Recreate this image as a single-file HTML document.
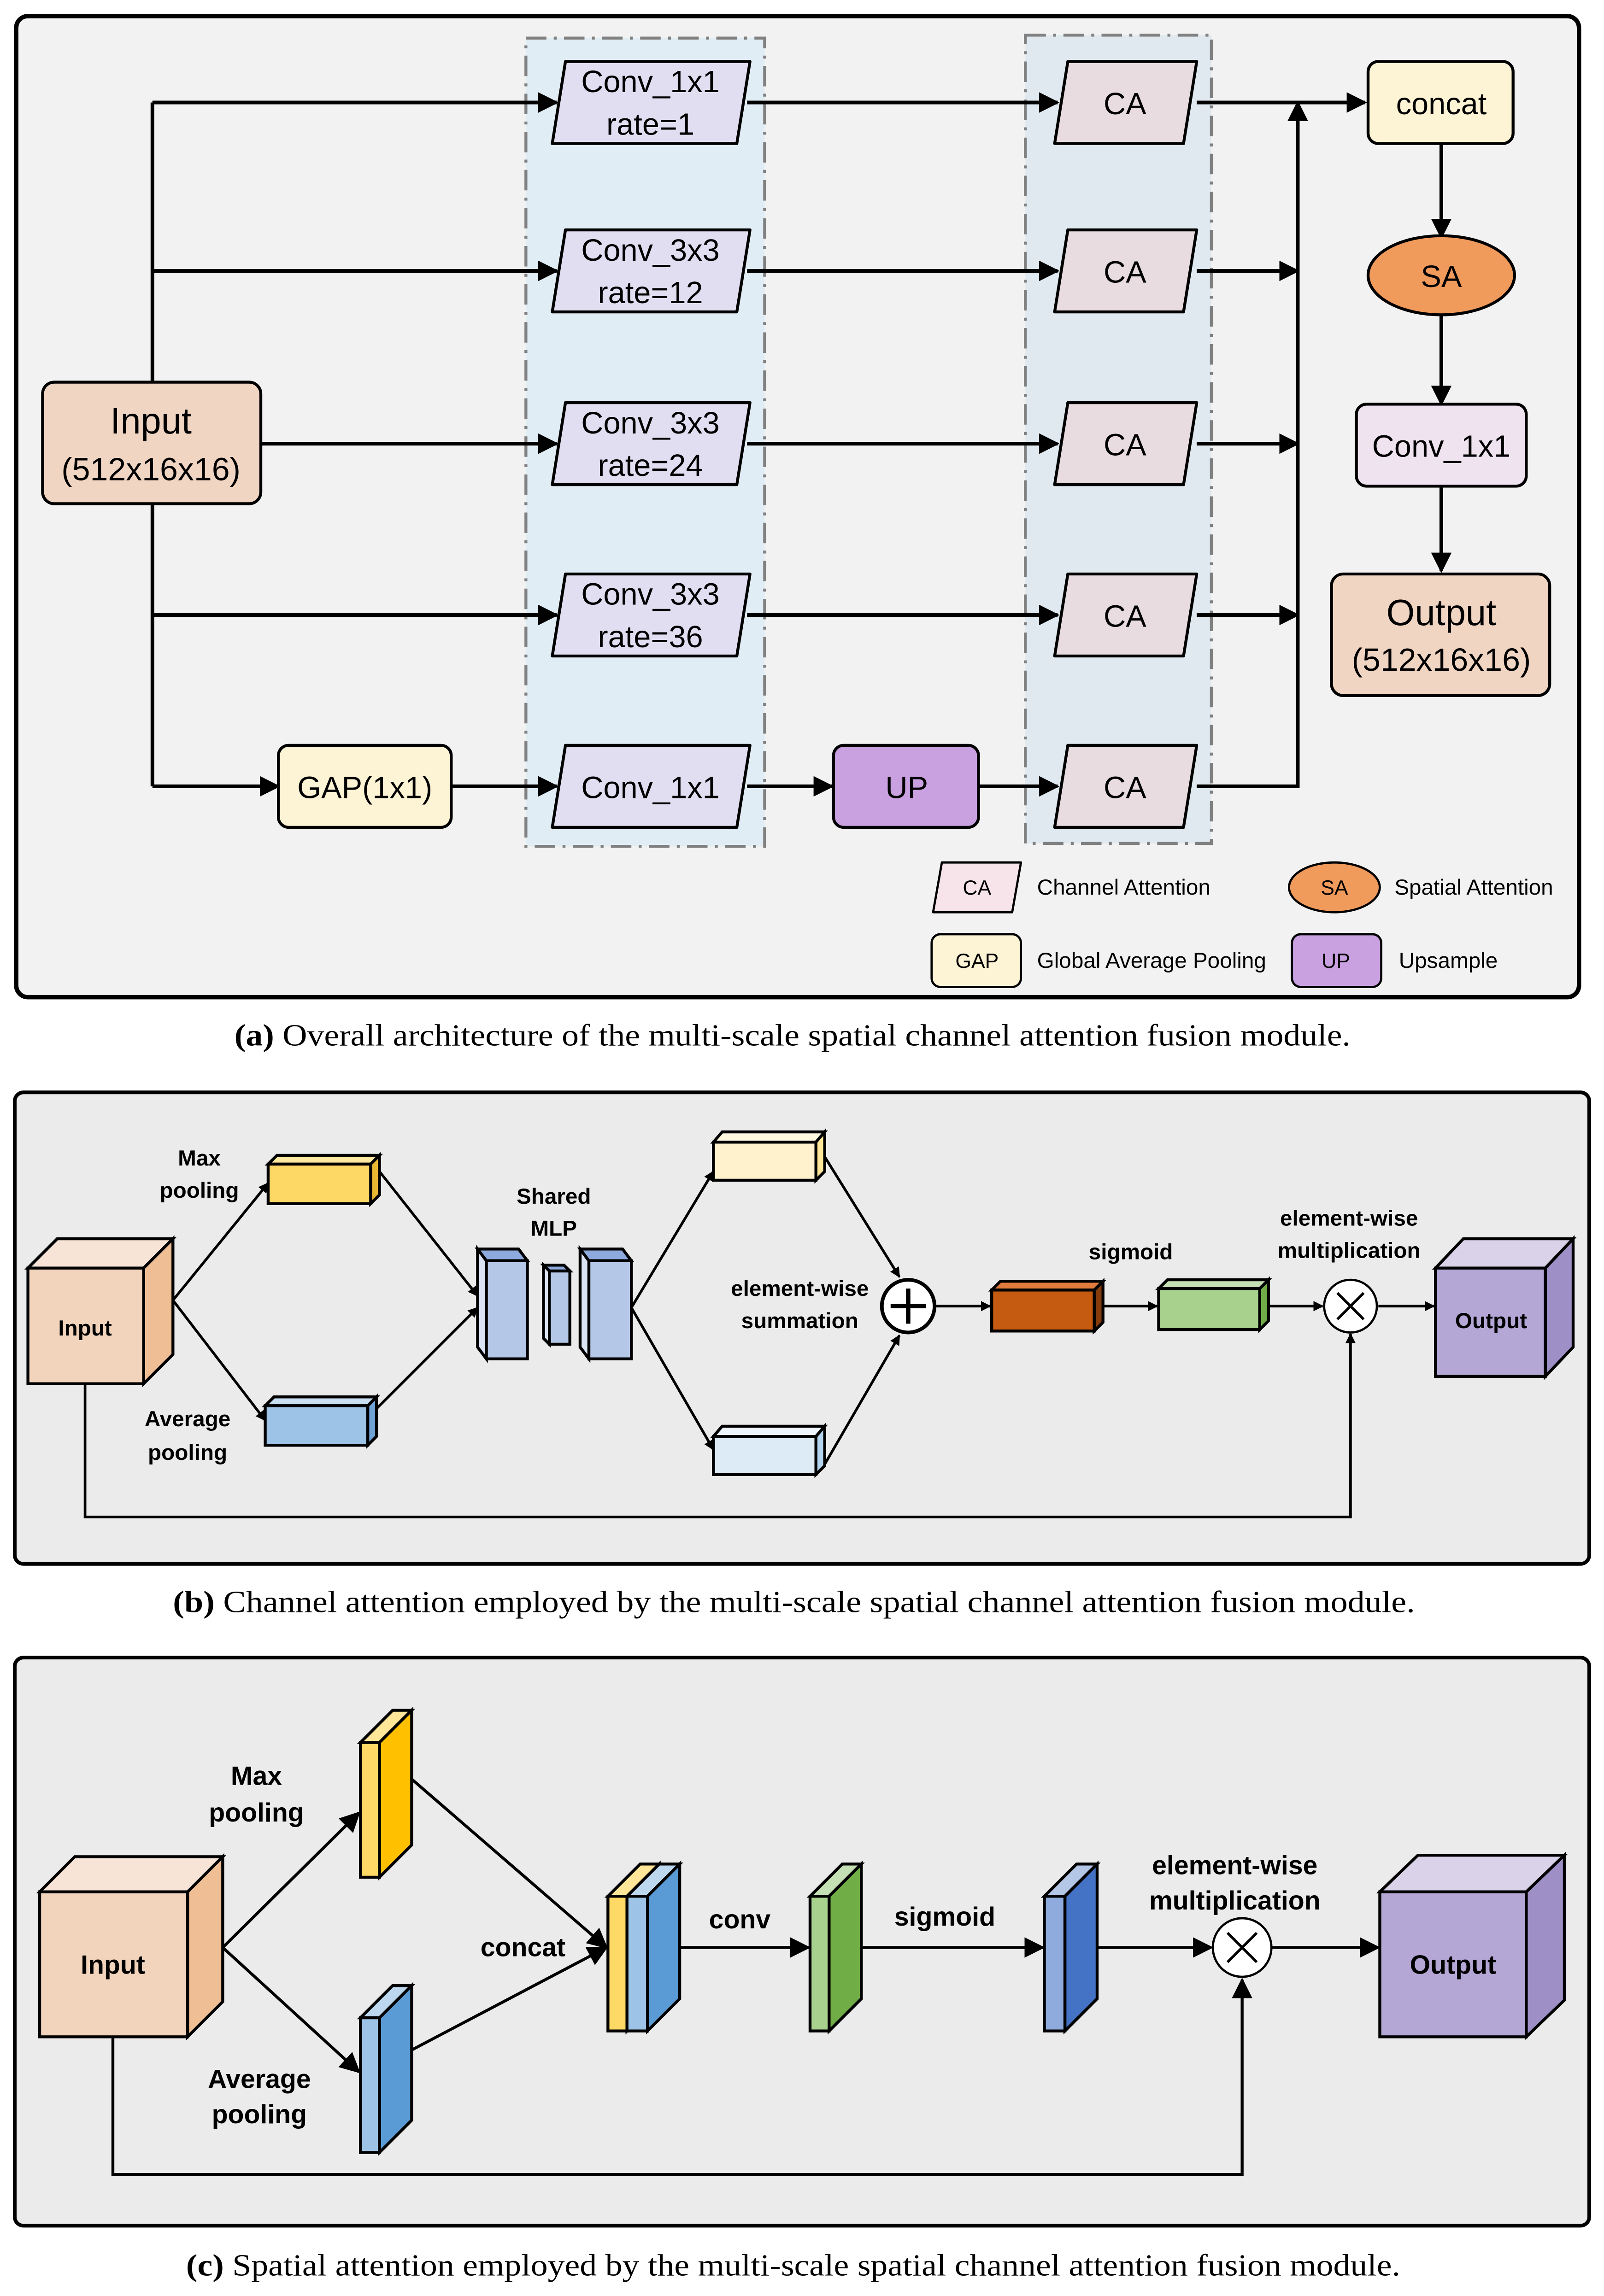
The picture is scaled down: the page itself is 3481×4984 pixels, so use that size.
<!DOCTYPE html>
<html><head><meta charset="utf-8"><style>
html,body{margin:0;padding:0;background:#fff}
svg{display:block}
.t{font-family:"Liberation Sans",sans-serif;fill:#000}
.b{font-weight:bold}
.cap{font-family:"Liberation Serif",serif;font-size:21px;fill:#000}
</style></head><body>
<svg width="3481" height="4984" viewBox="0 0 1095 1568" xmlns="http://www.w3.org/2000/svg">
<defs>
<marker id="ar" viewBox="0 0 10 10" refX="9" refY="5" markerWidth="7" markerHeight="7" orient="auto" markerUnits="userSpaceOnUse"><path d="M0,0L10,5L0,10z" fill="#000"/></marker>
<marker id="a2" viewBox="0 0 10 10" refX="9" refY="5" markerWidth="14" markerHeight="14" orient="auto" markerUnits="userSpaceOnUse"><path d="M0,0L10,5L0,10z" fill="#000"/></marker>
</defs>
<rect width="1095" height="1568" fill="#fff"/>
<!-- Panel a -->
<rect x="11" y="11" width="1067" height="670" rx="8" fill="#f2f2f2" stroke="#000" stroke-width="3"/>
<rect x="359" y="26" width="163" height="552" fill="#e1edf5" stroke="#808080" stroke-width="2" stroke-dasharray="14,5,2,5"/>
<rect x="700" y="24" width="127" height="552" fill="#dfe9ef" stroke="#808080" stroke-width="2" stroke-dasharray="14,5,2,5"/>
<g stroke="#000" stroke-width="2.5" fill="none">
<path d="M104,261V70M104,344V537"/>
<path d="M104,70H380" marker-end="url(#a2)"/>
<path d="M104,185H380" marker-end="url(#a2)"/>
<path d="M178,303H380" marker-end="url(#a2)"/>
<path d="M104,420H380" marker-end="url(#a2)"/>
<path d="M104,537H190" marker-end="url(#a2)"/>
<path d="M308,537H380" marker-end="url(#a2)"/>
<path d="M510,537H568" marker-end="url(#a2)"/>
<path d="M668,537H722" marker-end="url(#a2)"/>
<path d="M510,70H722" marker-end="url(#a2)"/>
<path d="M510,185H722" marker-end="url(#a2)"/>
<path d="M510,303H722" marker-end="url(#a2)"/>
<path d="M510,420H722" marker-end="url(#a2)"/>
<path d="M817,70H932" marker-end="url(#a2)"/>
<path d="M817,185H886" marker-end="url(#a2)"/>
<path d="M817,303H886" marker-end="url(#a2)"/>
<path d="M817,420H886" marker-end="url(#a2)"/>
<path d="M817,537H886V70" marker-end="url(#a2)"/>
<path d="M984,98V162" marker-end="url(#a2)"/>
<path d="M984,215V276" marker-end="url(#a2)"/>
<path d="M984,332V390" marker-end="url(#a2)"/>
</g>
<rect x="29" y="261" width="149" height="83" rx="8" fill="#f0d5c3" stroke="#000" stroke-width="2"/>
<text class="t" x="103" y="296" font-size="25" text-anchor="middle">Input</text>
<text class="t" x="103" y="328" font-size="22" text-anchor="middle">(512x16x16)</text>
<g fill="#e2def2" stroke="#000" stroke-width="2" stroke-linejoin="round">
<path d="M386,42H512L503,98H377Z"/>
<path d="M386,157H512L503,213H377Z"/>
<path d="M386,275H512L503,331H377Z"/>
<path d="M386,392H512L503,448H377Z"/>
<path d="M386,509H512L503,565H377Z"/>
</g>
<g class="t" font-size="21" text-anchor="middle">
<text x="444" y="63">Conv_1x1</text><text x="444" y="92">rate=1</text>
<text x="444" y="178">Conv_3x3</text><text x="444" y="207">rate=12</text>
<text x="444" y="296">Conv_3x3</text><text x="444" y="325">rate=24</text>
<text x="444" y="413">Conv_3x3</text><text x="444" y="442">rate=36</text>
<text x="444" y="545">Conv_1x1</text>
</g>
<rect x="190" y="509" width="118" height="56" rx="7" fill="#fdf3d5" stroke="#000" stroke-width="2"/>
<text class="t" x="249" y="545" font-size="21" text-anchor="middle">GAP(1x1)</text>
<rect x="569" y="509" width="99" height="56" rx="7" fill="#c9a0e0" stroke="#000" stroke-width="2"/>
<text class="t" x="619" y="545" font-size="21" text-anchor="middle">UP</text>
<g fill="#e8dce0" stroke="#000" stroke-width="2" stroke-linejoin="round">
<path d="M729,42H817L808,98H720Z"/>
<path d="M729,157H817L808,213H720Z"/>
<path d="M729,275H817L808,331H720Z"/>
<path d="M729,392H817L808,448H720Z"/>
<path d="M729,509H817L808,565H720Z"/>
</g>
<g class="t" font-size="21" text-anchor="middle">
<text x="768" y="78">CA</text><text x="768" y="193">CA</text><text x="768" y="311">CA</text><text x="768" y="428">CA</text><text x="768" y="545">CA</text>
</g>
<rect x="934" y="42" width="99" height="56" rx="7" fill="#fdf3d5" stroke="#000" stroke-width="2"/>
<text class="t" x="984" y="78" font-size="21" text-anchor="middle">concat</text>
<ellipse cx="984" cy="188" rx="50" ry="27" fill="#f09a5c" stroke="#000" stroke-width="2"/>
<text class="t" x="984" y="196" font-size="21" text-anchor="middle">SA</text>
<rect x="926" y="276" width="116" height="56" rx="7" fill="#efe3f0" stroke="#000" stroke-width="2"/>
<text class="t" x="984" y="312" font-size="21" text-anchor="middle">Conv_1x1</text>
<rect x="909" y="392" width="149" height="83" rx="8" fill="#f0d5c3" stroke="#000" stroke-width="2"/>
<text class="t" x="984" y="427" font-size="25" text-anchor="middle">Output</text>
<text class="t" x="984" y="458" font-size="22" text-anchor="middle">(512x16x16)</text>
<!-- legend -->
<path d="M643,589H697L691,623H637Z" fill="#f6e4ea" stroke="#000" stroke-width="1.5" stroke-linejoin="round"/>
<text class="t" x="667" y="611" font-size="14" text-anchor="middle">CA</text>
<text class="t" x="708" y="611" font-size="15">Channel Attention</text>
<ellipse cx="911" cy="606" rx="31" ry="17" fill="#f09a5c" stroke="#000" stroke-width="1.5"/>
<text class="t" x="911" y="611" font-size="14" text-anchor="middle">SA</text>
<text class="t" x="952" y="611" font-size="15">Spatial Attention</text>
<rect x="636" y="638" width="61" height="36" rx="6" fill="#fdf3d5" stroke="#000" stroke-width="1.5"/>
<text class="t" x="667" y="661" font-size="14" text-anchor="middle">GAP</text>
<text class="t" x="708" y="661" font-size="15">Global Average Pooling</text>
<rect x="882" y="638" width="61" height="36" rx="6" fill="#c9a0e0" stroke="#000" stroke-width="1.5"/>
<text class="t" x="912" y="661" font-size="14" text-anchor="middle">UP</text>
<text class="t" x="955" y="661" font-size="15">Upsample</text>
<text class="cap" x="160" y="714" textLength="762" lengthAdjust="spacingAndGlyphs"><tspan font-weight="bold">(a)</tspan> Overall architecture of the multi-scale spatial channel attention fusion module.</text>

<!-- Panel b -->
<rect x="10" y="746" width="1075" height="322" rx="6" fill="#ebebeb" stroke="#000" stroke-width="2.5"/>
<g stroke="#000" stroke-width="1.8" fill="none">
<path d="M118,888L183,808" marker-end="url(#ar)"/>
<path d="M118,888L181,970" marker-end="url(#ar)"/>
<path d="M259,800L326,885" marker-end="url(#ar)"/>
<path d="M257,962L326,893" marker-end="url(#ar)"/>
<path d="M431,893L487,800" marker-end="url(#ar)"/>
<path d="M431,893L487,990" marker-end="url(#ar)"/>
<path d="M563,790L614,872" marker-end="url(#ar)"/>
<path d="M563,1000L614,912" marker-end="url(#ar)"/>
<path d="M638,892H676" marker-end="url(#ar)"/>
<path d="M753,892H790" marker-end="url(#ar)"/>
<path d="M866,892H903" marker-end="url(#ar)"/>
<path d="M941,892H979" marker-end="url(#ar)"/>
<path d="M58,945V1036H922V911" marker-end="url(#ar)"/>
</g>
<g stroke="#000" stroke-width="2" stroke-linejoin="miter">
<path d="M19,866L39,846H118L98,866Z" fill="#f7e4d7"/>
<path d="M98,866L118,846V925L98,945Z" fill="#efbe94"/>
<rect x="19" y="866" width="79" height="79" fill="#f2d4bc"/>
<path d="M183,795L189,789H259L253,795Z" fill="#fde9a0"/><path d="M253,795L259,789V816L253,822Z" fill="#e9b832"/><rect x="183" y="795" width="70" height="27" fill="#fdd865"/>
<path d="M181,960L187,954H257L251,960Z" fill="#c9dff2"/><path d="M251,960L257,954V981L251,987Z" fill="#6fa3d6"/><rect x="181" y="960" width="70" height="27" fill="#9dc3e6"/>
<path d="M326,853L332,861V928L326,920Z" fill="#dae3f3"/><path d="M326,853H354L360,861H332Z" fill="#8eaadc"/><rect x="332" y="861" width="28" height="67" fill="#b4c7e7"/>
<path d="M371,864L375,868V918L371,914Z" fill="#dae3f3"/><path d="M371,864H385L389,868H375Z" fill="#8eaadc"/><rect x="375" y="868" width="14" height="50" fill="#b4c7e7"/>
<path d="M396,853L402,861V928L396,920Z" fill="#dae3f3"/><path d="M396,853H425L431,861H402Z" fill="#8eaadc"/><rect x="402" y="861" width="29" height="67" fill="#b4c7e7"/>
<path d="M487,780L493,773H563L557,780Z" fill="#fff9e0"/><path d="M557,780L563,773V800L557,806Z" fill="#ffe699"/><rect x="487" y="780" width="70" height="26" fill="#fff2cc"/>
<path d="M487,981L493,974H563L557,981Z" fill="#eef5fc"/><path d="M557,981L563,974V1001L557,1007Z" fill="#b4d3ee"/><rect x="487" y="981" width="70" height="26" fill="#ddebf7"/>
<path d="M677,881L683,875H753L747,881Z" fill="#e07b3c"/><path d="M747,881L753,875V903L747,909Z" fill="#843c0c"/><rect x="677" y="881" width="70" height="28" fill="#c55a11"/>
<path d="M791,880L797,874H866L860,880Z" fill="#c5e0b4"/><path d="M860,880L866,874V902L860,908Z" fill="#70ad47"/><rect x="791" y="880" width="69" height="28" fill="#a9d18e"/>
<path d="M980,866L999,846H1074L1055,866Z" fill="#d9d2e9"/><path d="M1055,866L1074,846V920L1055,940Z" fill="#9e8fc7"/><rect x="980" y="866" width="75" height="74" fill="#b4a7d6"/>
</g>
<circle cx="620" cy="892" r="18" fill="#fff" stroke="#000" stroke-width="2.5"/>
<path d="M620,880V904M608,892H632" stroke="#000" stroke-width="3"/>
<circle cx="922" cy="892" r="18" fill="#fff" stroke="#000" stroke-width="1.5"/>
<path d="M913,883L931,901M931,883L913,901" stroke="#000" stroke-width="1.8"/>
<g class="t b" font-size="15" text-anchor="middle">
<text x="58" y="912">Input</text>
<text x="136" y="796">Max</text><text x="136" y="818">pooling</text>
<text x="128" y="974">Average</text><text x="128" y="997">pooling</text>
<text x="378" y="822">Shared</text><text x="378" y="844">MLP</text>
<text x="546" y="885">element-wise</text><text x="546" y="907">summation</text>
<text x="772" y="860">sigmoid</text>
<text x="921" y="837">element-wise</text><text x="921" y="859">multiplication</text>
<text x="1018" y="907">Output</text>
</g>
<text class="cap" x="118" y="1101" textLength="848" lengthAdjust="spacingAndGlyphs"><tspan font-weight="bold">(b)</tspan> Channel attention employed by the multi-scale spatial channel attention fusion module.</text>

<!-- Panel c -->
<rect x="10" y="1132" width="1075" height="388" rx="6" fill="#ebebeb" stroke="#000" stroke-width="2.5"/>
<g stroke="#000" stroke-width="2" fill="none">
<path d="M152,1330L245,1238" marker-end="url(#a2)"/>
<path d="M152,1330L245,1415" marker-end="url(#a2)"/>
<path d="M281,1215L414,1330" marker-end="url(#a2)"/>
<path d="M281,1400L414,1330" marker-end="url(#a2)"/>
<path d="M464,1330H552" marker-end="url(#a2)"/>
<path d="M588,1330H712" marker-end="url(#a2)"/>
<path d="M749,1330H827" marker-end="url(#a2)"/>
<path d="M868,1330H941" marker-end="url(#a2)"/>
<path d="M77,1391V1485H848V1352" marker-end="url(#a2)"/>
</g>
<g stroke="#000" stroke-width="2">
<path d="M27,1292L51,1268H152L128,1292Z" fill="#f7e4d7"/><path d="M128,1292L152,1268V1367L128,1391Z" fill="#efbe94"/><rect x="27" y="1292" width="101" height="99" fill="#f2d4bc"/>
<path d="M246,1190L268,1168H281L259,1190Z" fill="#ffe699"/><path d="M259,1190L281,1168V1260L259,1282Z" fill="#ffc000"/><rect x="246" y="1190" width="13" height="92" fill="#ffd966"/>
<path d="M246,1378L268,1356H281L259,1378Z" fill="#bdd7ee"/><path d="M259,1378L281,1356V1448L259,1470Z" fill="#5b9bd5"/><rect x="246" y="1378" width="13" height="92" fill="#9dc3e6"/>
<path d="M415,1295L437,1273H450L428,1295Z" fill="#ffe699"/><path d="M428,1295L450,1273V1365L428,1387Z" fill="#ffc000"/><rect x="415" y="1295" width="13" height="92" fill="#ffd966"/>
<path d="M428,1295L450,1273H464L442,1295Z" fill="#bdd7ee"/><path d="M442,1295L464,1273V1365L442,1387Z" fill="#5b9bd5"/><rect x="428" y="1295" width="14" height="92" fill="#9dc3e6"/>
<path d="M553,1295L575,1273H588L566,1295Z" fill="#c5e0b4"/><path d="M566,1295L588,1273V1365L566,1387Z" fill="#70ad47"/><rect x="553" y="1295" width="13" height="92" fill="#a9d18e"/>
<path d="M713,1295L735,1273H749L727,1295Z" fill="#b4c7e7"/><path d="M727,1295L749,1273V1365L727,1387Z" fill="#4472c4"/><rect x="713" y="1295" width="14" height="92" fill="#8faadc"/>
<path d="M942,1292L968,1267H1068L1042,1292Z" fill="#d9d2e9"/><path d="M1042,1292L1068,1267V1366L1042,1391Z" fill="#9e8fc7"/><rect x="942" y="1292" width="100" height="99" fill="#b4a7d6"/>
</g>
<circle cx="848" cy="1330" r="20" fill="#fff" stroke="#000" stroke-width="1.5"/>
<path d="M838,1320L858,1340M858,1320L838,1340" stroke="#000" stroke-width="1.8"/>
<g class="t b" font-size="18" text-anchor="middle">
<text x="77" y="1348">Input</text>
<text x="175" y="1219">Max</text><text x="175" y="1244">pooling</text>
<text x="177" y="1426">Average</text><text x="177" y="1450">pooling</text>
<text x="357" y="1336">concat</text>
<text x="505" y="1317">conv</text>
<text x="645" y="1315">sigmoid</text>
<text x="843" y="1280">element-wise</text><text x="843" y="1304">multiplication</text>
<text x="992" y="1348">Output</text>
</g>
<text class="cap" x="127" y="1554" textLength="829" lengthAdjust="spacingAndGlyphs"><tspan font-weight="bold">(c)</tspan> Spatial attention employed by the multi-scale spatial channel attention fusion module.</text>
</svg>
</body></html>
